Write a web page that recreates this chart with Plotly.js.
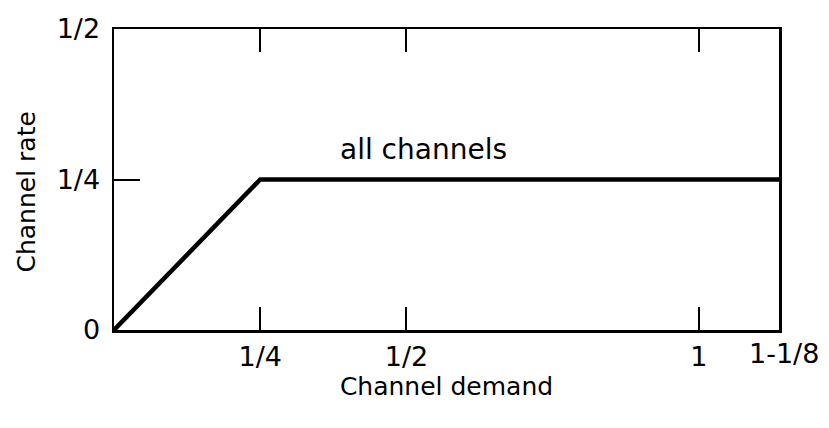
<!DOCTYPE html>
<html>
<head>
<meta charset="utf-8">
<script src="https://cdn.plot.ly/plotly-3.0.1.min.js"></script>
<style>
  html, body { margin: 0; padding: 0; background: #fff; }
  #chart { width: 829px; height: 428px; }
</style>
</head>
<body>
<div id="chart"></div>
<script>
// Channel rate as a function of channel demand: rises with demand, then caps at 1/4.
const demand = [0, 0.25, 1.137];
const rate = [0, 0.25, 0.25];

const xTickVals = [0.25, 0.5, 1];
const xTickText = ['1/4', '1/2', '1'];
const xEdgeValue = 1.125;
const xEdgeText = '1-1/8';

const yTickVals = [0, 0.25, 0.5];
const yTickText = ['0', '1/4', '1/2'];

const curveLabel = 'all channels';

const FONT = 'DejaVu Sans, sans-serif';

const trace = {
  x: demand,
  y: rate,
  type: 'scatter',
  mode: 'lines',
  line: { color: '#000', width: 4.5 },
  hoverinfo: 'skip'
};

const layout = {
  width: 829,
  height: 428,
  margin: { l: 114, r: 50, t: 29, b: 98 },
  paper_bgcolor: '#fff',
  plot_bgcolor: '#fff',
  showlegend: false,
  font: { family: FONT, color: '#000', size: 27 },
  xaxis: {
    range: [0, 1.137],
    tickvals: xTickVals,
    ticktext: xTickText,
    ticks: 'inside',
    ticklen: 23,
    tickwidth: 2,
    tickcolor: '#000',
    showline: true,
    linecolor: '#000',
    linewidth: 2.5,
    mirror: 'ticks',
    showgrid: false,
    zeroline: false,
    tickfont: { family: FONT, size: 27, color: '#000' },
    ticklabelstandoff: 1,
    title: { text: 'Channel demand', font: { family: FONT, size: 25, color: '#000' }, standoff: 1 }
  },
  yaxis: {
    range: [0, 0.5],
    tickvals: yTickVals,
    ticktext: yTickText,
    ticks: 'inside',
    ticklen: 26,
    tickwidth: 2,
    tickcolor: '#000',
    showline: true,
    linecolor: '#000',
    linewidth: 2.5,
    mirror: true,
    showgrid: false,
    zeroline: false,
    tickfont: { family: FONT, size: 27, color: '#000' },
    ticklabelstandoff: 6
  },
  annotations: [
    {
      x: xEdgeValue, xref: 'x',
      y: 0, yref: 'paper',
      xshift: 12,
      yanchor: 'top', yshift: -6,
      text: xEdgeText,
      showarrow: false,
      font: { family: FONT, size: 27, color: '#000' }
    },
    {
      x: 0.53, xref: 'x',
      y: 0.25, yref: 'y',
      yanchor: 'bottom', yshift: 12,
      text: curveLabel,
      showarrow: false,
      font: { family: FONT, size: 28, color: '#000' }
    },
    {
      x: 28, xref: 'paper', xanchor: 'center',
      y: 0.5, yref: 'paper',
      yshift: -13,
      text: 'Channel rate',
      textangle: -90,
      showarrow: false,
      font: { family: FONT, size: 25, color: '#000' }
    }
  ]
};

// y title is placed in pixels from the left edge of the page
layout.annotations[2].x = (26 - layout.margin.l) / (829 - layout.margin.l - layout.margin.r);

Plotly.newPlot('chart', [trace], layout, { displayModeBar: false, staticPlot: true });
</script>
</body>
</html>
